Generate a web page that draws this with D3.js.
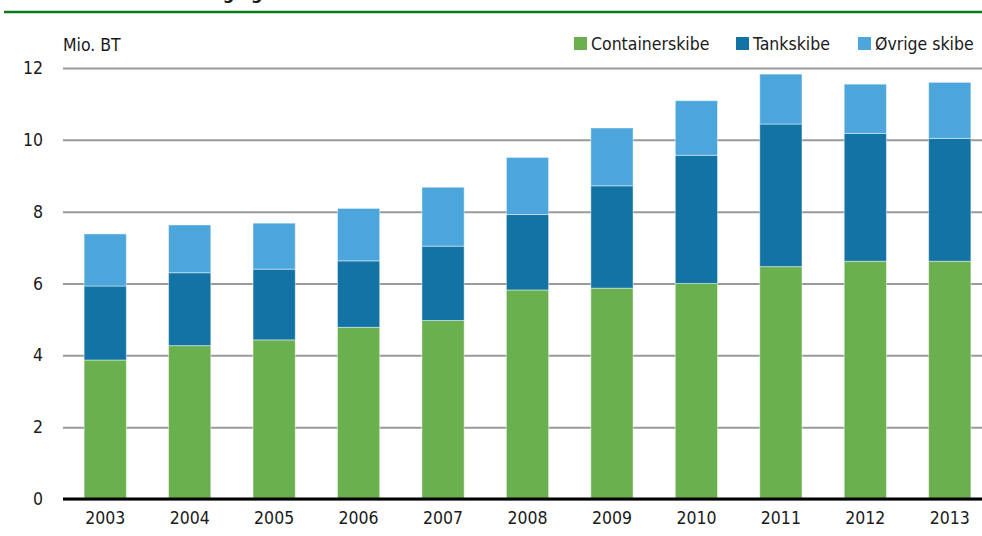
<!DOCTYPE html>
<html>
<head>
<meta charset="utf-8">
<script src="https://cdn.jsdelivr.net/npm/d3@7"></script>
<style>
  html, body { margin: 0; padding: 0; background: #fff; }
  svg { display: block; }
  text { font-family: "Liberation Sans Narrow", "DejaVu Sans Condensed", "Arial Narrow", sans-serif; fill: #1a1a1a; }
</style>
</head>
<body>
<svg id="chart" width="982" height="536"></svg>
<script>
const years = ["2003","2004","2005","2006","2007","2008","2009","2010","2011","2012","2013"];
const containerskibe = [3.87, 4.27, 4.43, 4.78, 4.97, 5.82, 5.87, 6.00, 6.47, 6.62, 6.62];
const tankskibe      = [2.06, 2.03, 1.97, 1.85, 2.07, 2.10, 2.85, 3.57, 3.97, 3.56, 3.42];
const oevrige        = [1.45, 1.33, 1.28, 1.46, 1.64, 1.59, 1.61, 1.52, 1.39, 1.37, 1.56];
const seriesNames = ["Containerskibe", "Tankskibe", "Øvrige skibe"];
const seriesColors = ["#6ab04f", "#1373a5", "#4ca6dc"];
const yTicks = [0, 2, 4, 6, 8, 10, 12];
const yUnit = "Mio. BT";
const titleText = "Handelsflådens udvikling og størrelse";

const svg = d3.select("#chart");

const x = d3.scaleBand().domain(years).range([63, 992]).paddingInner(0.5).paddingOuter(0.25);
const y = d3.scaleLinear().domain([0, 12]).range([499, 68]);

// title (cut off at top edge, as in the reference) and green rule
svg.append("text").attr("x", 4).attr("y", -1)
  .style("font-family", "'DejaVu Sans Condensed', sans-serif")
  .style("font-weight", "bold").style("font-size", "18px").text(titleText);
svg.append("line").attr("x1", 4).attr("x2", 982).attr("y1", 12).attr("y2", 12)
  .attr("stroke", "#0a7a1a").attr("stroke-width", 2.5);

// gridlines
const yAxis = d3.axisLeft(y).tickValues(yTicks).tickSize(-(982 - 63)).tickFormat(d3.format("d"));
const gy = svg.append("g").attr("transform", "translate(63,0)").call(yAxis);
gy.select(".domain").remove();
gy.selectAll(".tick line").attr("stroke", "#9a9a9a").attr("stroke-width", 2);
gy.selectAll(".tick text").attr("x", -20).style("font-size", "17.5px").attr("fill", "#1a1a1a");

// stacked bars
const table = years.map((yr, i) => ({ year: yr, Containerskibe: containerskibe[i], Tankskibe: tankskibe[i], "Øvrige skibe": oevrige[i] }));
const stack = d3.stack().keys(seriesNames)(table);
svg.append("g").selectAll("g").data(stack).join("g")
  .attr("fill", (d, i) => seriesColors[i])
  .selectAll("rect").data(d => d).join("rect")
  .attr("x", d => x(d.data.year))
  .attr("width", x.bandwidth())
  .attr("y", d => y(d[1]))
  .attr("height", d => y(d[0]) - y(d[1]))
  .attr("stroke", "rgba(255,255,255,0.45)").attr("stroke-width", 1);

// x axis
const xAxis = d3.axisBottom(x).tickSize(0);
const gx = svg.append("g").attr("transform", "translate(0,499)").call(xAxis);
gx.select(".domain").remove();
gx.selectAll(".tick text").attr("y", 13).attr("dy", "0.71em").style("font-size", "17.5px").attr("fill", "#1a1a1a");
svg.append("line").attr("x1", 63).attr("x2", 982).attr("y1", y(0)).attr("y2", y(0))
  .attr("stroke", "#000").attr("stroke-width", 3);

// unit label
svg.append("text").attr("x", 63).attr("y", 51).style("font-size", "17.5px").text(yUnit);

// legend
const legendX = [574, 736, 858];
const lg = svg.append("g").selectAll("g").data(seriesNames).join("g")
  .attr("transform", (d, i) => `translate(${legendX[i]},37)`);
lg.append("rect").attr("width", 13).attr("height", 13).attr("fill", (d, i) => seriesColors[i]);
lg.append("text").attr("x", 17).attr("y", 13).style("font-size", "17.5px").text(d => d);
</script>
</body>
</html>
